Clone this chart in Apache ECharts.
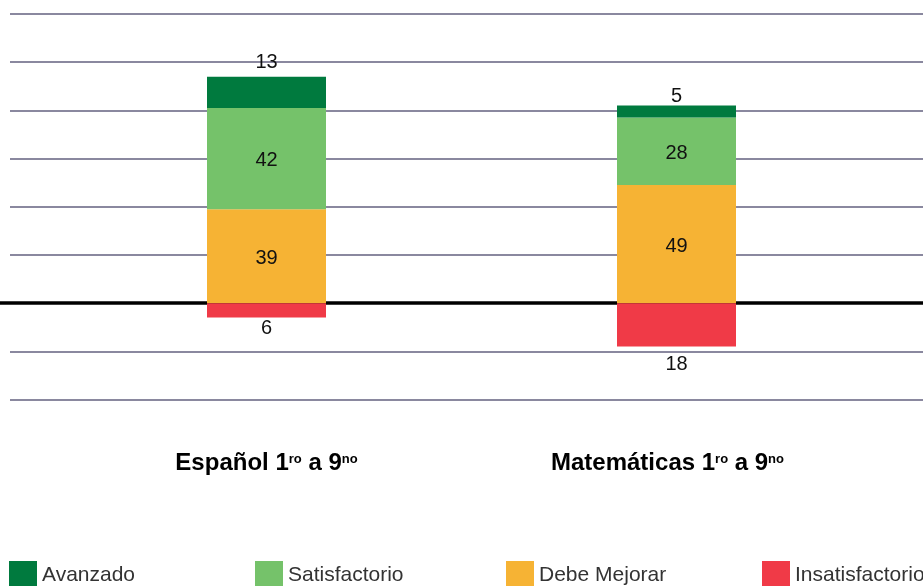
<!DOCTYPE html>
<html>
<head>
<meta charset="utf-8">
<script src="https://cdn.jsdelivr.net/npm/echarts@6/dist/echarts.min.js"></script>
<style>
  html, body { margin: 0; padding: 0; background: #fff; }
  #chart { width: 923px; height: 586px; }
</style>
</head>
<body>
<div id="chart"></div>
<script>
// Subjects (x categories) with their grade superscripts
const categories = ['Español', 'Matemáticas'];
const categorySup = [['ro', 'no'], ['ro', 'no']];

// Percentage of students per performance level
const avanzado = [13, 5];
const satisfactorio = [42, 28];
const debeMejorar = [39, 49];
const insatisfactorio = [6, 18];   // plotted below zero

const levelNames = ['Avanzado', 'Satisfactorio', 'Debe Mejorar', 'Insatisfactorio'];

// Value axis ticks
const yMin = -40;
const yMax = 120;
const yStep = 20;

const FONT = '"Liberation Sans", Arial, sans-serif';
const colors = {
  'Avanzado': '#007a3e',
  'Satisfactorio': '#75c26a',
  'Debe Mejorar': '#f6b334',
  'Insatisfactorio': '#f03a47'
};

const gridBox = { top: 14, bottom: 186.5 };
const valueAxis = (idx, showSplit) => ({
  type: 'value', gridIndex: idx, min: yMin, max: yMax, interval: yStep,
  axisLine: { show: false }, axisTick: { show: false }, axisLabel: { show: false },
  splitLine: { show: showSplit, lineStyle: { color: '#8a889f', width: 1.8 } }
});

const chart = echarts.init(document.getElementById('chart'), null, { renderer: 'canvas' });

const labelBase = { show: true, color: '#111', fontSize: 20, fontFamily: FONT };
const insideLabel = Object.assign({}, labelBase, { position: 'inside', offset: [0, 2] });

// Per-bar offsets for the thin end segments' labels
const avDistance = [4, -1];
const insDistance = [1, 8];

const series = [
  { name: 'Debe Mejorar', data: debeMejorar, label: insideLabel },
  { name: 'Satisfactorio', data: satisfactorio, label: insideLabel },
  {
    name: 'Avanzado',
    data: avanzado.map((v, i) => ({
      value: v,
      label: Object.assign({}, labelBase, { position: 'top', distance: avDistance[i] })
    }))
  },
  {
    name: 'Insatisfactorio',
    data: insatisfactorio.map((v, i) => ({
      value: -v,
      label: Object.assign({}, labelBase, {
        position: 'bottom', distance: insDistance[i],
        formatter: p => String(Math.abs(p.value))
      })
    }))
  }
].map(s => Object.assign({
  type: 'bar', stack: 'nivel', xAxisIndex: 1, yAxisIndex: 1,
  barWidth: 119, itemStyle: { color: colors[s.name] }, z: 3
}, s));

const legendLeft = [9, 255, 506, 762];
// right padding on the last token nudges the second subject label left
const labelTail = ['s', 's2'];

chart.setOption({
  animation: false,
  textStyle: { fontFamily: FONT },
  grid: [
    Object.assign({ left: 10, right: 0 }, gridBox),       // horizontal gridlines
    Object.assign({ left: 61.5, right: 41.5 }, gridBox),  // bars
    Object.assign({ left: 0, right: 0 }, gridBox)         // zero baseline
  ],
  xAxis: [
    { type: 'value', gridIndex: 0, show: false },
    {
      type: 'category', gridIndex: 1, data: categories,
      axisLine: { show: false, onZero: false }, axisTick: { show: false },
      axisLabel: {
        margin: 50,
        formatter: (v, i) => '{b|' + v + ' 1}{s|' + categorySup[i][0] + '}{b| a 9}{' + labelTail[i] + '|' + categorySup[i][1] + '}',
        rich: {
          b: { fontSize: 24, fontWeight: 'bold', color: '#000', fontFamily: FONT, lineHeight: 28 },
          s: { fontSize: 13, fontWeight: 'bold', color: '#000', fontFamily: FONT, verticalAlign: 'top', padding: [3, 0, 0, 0] },
          s2: { fontSize: 13, fontWeight: 'bold', color: '#000', fontFamily: FONT, verticalAlign: 'top', padding: [3, 18, 0, 0] }
        }
      }
    },
    {
      type: 'value', gridIndex: 2, min: 0, max: 1,
      axisLine: { show: true, onZero: true, lineStyle: { color: '#000', width: 3.5 } },
      axisTick: { show: false }, axisLabel: { show: false }, splitLine: { show: false }
    }
  ],
  yAxis: [valueAxis(0, true), valueAxis(1, false), valueAxis(2, false)],
  legend: levelNames.map((n, i) => ({
    data: [n], left: legendLeft[i], top: 561, padding: 0,
    icon: 'rect', itemWidth: 28, itemHeight: 28, itemGap: 0,
    selectedMode: false,
    textStyle: { fontSize: 21, color: '#333', fontFamily: FONT, padding: [0, 0, 6, 0] }
  })),
  series: series
});
</script>
</body>
</html>
